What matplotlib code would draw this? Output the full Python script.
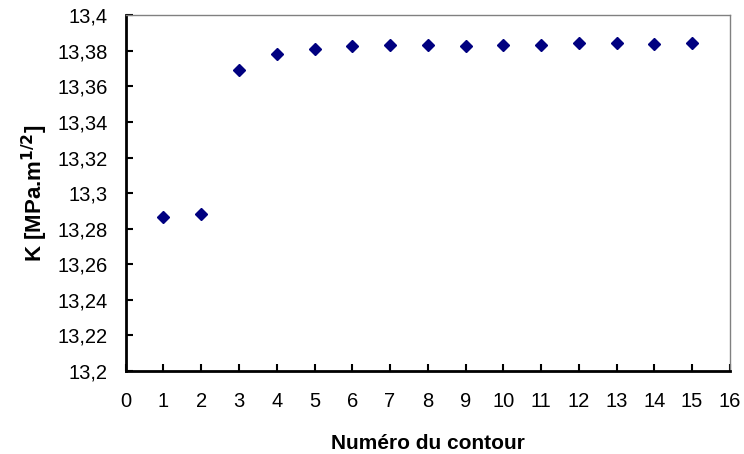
import matplotlib
matplotlib.use("Agg")
import matplotlib.pyplot as plt
from matplotlib.ticker import FixedLocator, FuncFormatter

# Data
contours = [1, 2, 3, 4, 5, 6, 7, 8, 9, 10, 11, 12, 13, 14, 15]
K_values = [13.2868, 13.2883, 13.3691, 13.3782, 13.3811, 13.3825, 13.3834,
            13.3834, 13.3826, 13.3834, 13.3834, 13.3842, 13.3842, 13.3841, 13.3842]
x_ticks = list(range(0, 17))
y_ticks = [13.2, 13.22, 13.24, 13.26, 13.28, 13.3, 13.32, 13.34, 13.36, 13.38, 13.4]

plt.rcParams['font.family'] = ['Liberation Sans', 'DejaVu Sans']

fig = plt.figure(figsize=(7.44, 4.54), dpi=100)
ax = fig.add_axes([0.169, 0.1828, 0.812, 0.7835])

ax.plot(contours, K_values, linestyle='none', marker='D', markersize=6.5,
        color='#000080', markeredgecolor='#000080')

ax.set_xlim(0, 16)
ax.set_ylim(13.2, 13.4)
ax.xaxis.set_major_locator(FixedLocator(x_ticks))
ax.yaxis.set_major_locator(FixedLocator(y_ticks))


def fmt(v, pos):
    s = f"{v:.2f}".rstrip('0').rstrip('.')
    return s.replace('.', ',')


ax.yaxis.set_major_formatter(FuncFormatter(fmt))

ax.tick_params(axis='both', direction='in', length=5, width=1.5, color='black',
               labelsize=14.5, top=False, right=False)
ax.tick_params(axis='x', pad=15)
ax.tick_params(axis='y', pad=13)

for side in ['left', 'bottom']:
    ax.spines[side].set_color('black')
    ax.spines[side].set_linewidth(2)
for side in ['top', 'right']:
    ax.spines[side].set_color('#808080')
    ax.spines[side].set_linewidth(1)

ax.set_xlabel('Numéro du contour', fontsize=15, fontweight='bold', labelpad=17)
ax.set_ylabel(r'K [MPa.m$^{\mathbf{1/2}}$]', fontsize=16, fontweight='bold', labelpad=5)

fig.savefig('out.png', dpi=100)
